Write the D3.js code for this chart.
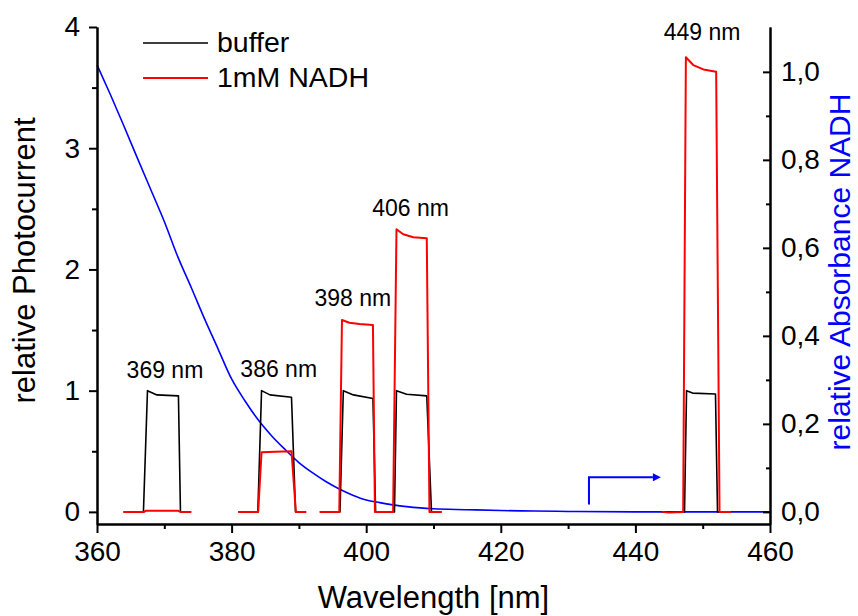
<!DOCTYPE html>
<html>
<head>
<meta charset="utf-8">
<script src="https://cdn.jsdelivr.net/npm/d3@7"></script>
<style>
  html, body { margin: 0; padding: 0; background: #fff; }
  svg { display: block; font-family: Arial, "Liberation Sans", sans-serif; }
</style>
</head>
<body>
<svg id="chart" width="858" height="616"></svg>
<script>
// Photocurrent traces: [wavelength nm, relative photocurrent]; null splits a trace.
const bufferTrace = [
  [364.0, 0], [366.9, 0], [367.5, 1.0], [368.9, 0.965], [372.1, 0.957], [372.4, 0], [374.0, 0], null,
  [381.0, 0], [383.9, 0], [384.45, 1.0], [385.7, 0.965], [388.9, 0.946], [389.5, 0], [391.0, 0], null,
  [393.1, 0], [396.1, 0], [396.6, 1.0], [398.1, 0.965], [401.0, 0.935], [401.4, 0], [404.2, 0],
  [404.5, 1.0], [406.0, 0.97], [409.0, 0.957], [409.7, 0], [411.2, 0], null,
  [443.9, 0], [447.3, 0], [447.6, 1.0], [448.5, 0.98], [451.9, 0.973], [452.2, 0], [454.2, 0]
];

const nadhTrace = [
  [363.9, 0], [367.0, 0], [367.3, 0.01], [372.0, 0.01], [372.4, 0], [374.0, 0], null,
  [381.0, 0], [383.95, 0], [384.45, 0.492], [386.5, 0.497], [388.9, 0.5], [389.55, 0], [391.1, 0], null,
  [393.1, 0], [396.0, 0], [396.4, 1.583], [397.5, 1.56], [399.0, 1.55], [401.0, 1.542], [401.3, 0], [404.0, 0],
  [404.5, 2.331], [405.5, 2.29], [407.0, 2.265], [409.0, 2.257], [409.4, 0], [411.2, 0], null,
  [443.9, 0], [445.0, -0.005], [447.1, 0], [447.5, 3.75], [448.6, 3.686], [450.1, 3.65], [452.0, 3.631],
  [452.5, 0], [454.2, 0]
];

// NADH absorbance spectrum (right axis).
const absWavelength = [360, 362, 364, 366, 368, 370, 372, 374, 376, 378, 380, 382, 384, 386, 388, 390,
  392, 394, 396, 398, 400, 402, 404, 406, 408, 410, 415, 420, 425, 430, 440, 450, 460];
const absValue = [1.016, 0.948, 0.877, 0.804, 0.732, 0.66, 0.58, 0.51, 0.438, 0.37, 0.302, 0.252, 0.208,
  0.172, 0.141, 0.112, 0.089, 0.069, 0.052, 0.038, 0.027, 0.021, 0.016, 0.012, 0.009, 0.007, 0.005,
  0.003, 0.002, 0.001, 0.0, 0.0, 0.0];

// Peak wavelength labels: text, wavelength position, photocurrent height of the baseline.
const peakLabels = ["369 nm", "386 nm", "398 nm", "406 nm", "449 nm"];
const peakLabelX = [370.1, 387.0, 398.0, 406.6, 449.9];
const peakLabelY = [1.105, 1.113, 1.70, 2.44, 3.89];

// Arrow pointing to the absorbance axis, in [wavelength, photocurrent] units.
const arrowPath = [[433.1, 0.06], [433.1, 0.285], [442.6, 0.285]];

const xTicks = [360, 380, 400, 420, 440, 460];
const xMinor = [370, 390, 410, 430, 450];
const yLeftTicks = [0, 1, 2, 3, 4];
const yLeftMinor = [0.5, 1.5, 2.5, 3.5];
const yRightTicks = [0, 0.2, 0.4, 0.6, 0.8, 1.0];
const yRightMinor = [0.1, 0.3, 0.5, 0.7, 0.9];

const legendLabels = ["buffer", "1mM NADH"];
const legendColors = ["#000000", "#ff0000"];

const svg = d3.select("#chart");
const plotLeft = 97, plotRight = 770, plotTop = 27, plotBottom = 524;

const x = d3.scaleLinear().domain([360, 460]).range([plotLeft, plotRight]);
const yLeftDomain = [-0.1, 4];
const yL = d3.scaleLinear().domain(yLeftDomain).range([plotBottom, plotTop]);
// One absorbance unit spans as many pixels as 3.63 photocurrent units.
const absPerCurrent = 1 / 3.63;
const yR = d3.scaleLinear().domain(yLeftDomain.map(v => v * absPerCurrent)).range([plotBottom, plotTop]);

const commaFmt = d => d3.format(".1f")(d).replace(".", ",");

// Data lines
const currentLine = d3.line()
  .defined(d => d !== null)
  .x(d => x(d[0])).y(d => yL(d[1]));

const absData = absWavelength.map((w, i) => [w, absValue[i]]);
svg.append("path")
  .attr("d", d3.line().x(d => x(d[0])).y(d => yR(d[1])).curve(d3.curveMonotoneX)(absData))
  .attr("fill", "none").attr("stroke", "#0000ff").attr("stroke-width", 1.6);

svg.append("path")
  .attr("d", currentLine(bufferTrace))
  .attr("fill", "none").attr("stroke", "#000").attr("stroke-width", 1.6)
  .attr("stroke-linejoin", "round");

svg.append("path")
  .attr("d", currentLine(nadhTrace))
  .attr("fill", "none").attr("stroke", "#ff0000").attr("stroke-width", 2)
  .attr("stroke-linejoin", "round");

// Arrow
svg.append("defs").append("marker")
  .attr("id", "arrowHead").attr("viewBox", "0 0 10 10")
  .attr("refX", 0).attr("refY", 5)
  .attr("markerWidth", 6).attr("markerHeight", 4).attr("markerUnits", "strokeWidth")
  .attr("orient", "auto")
  .append("path").attr("d", "M0,0 L10,5 L0,10 Z").attr("fill", "#0000ff");

svg.append("path")
  .attr("d", d3.line().x(d => x(d[0])).y(d => yL(d[1]))(arrowPath))
  .attr("fill", "none").attr("stroke", "#0000ff").attr("stroke-width", 2)
  .attr("marker-end", "url(#arrowHead)");

// Axes
function styleAxis(g, fontSize) {
  g.selectAll(".domain").attr("stroke", "#000").attr("stroke-width", 2);
  g.selectAll(".tick line").attr("stroke", "#000").attr("stroke-width", 2);
  g.selectAll(".tick text").attr("fill", "#000")
    .style("font-size", fontSize + "px")
    .style("font-family", 'Arial, "Liberation Sans", sans-serif');
}

const gx = svg.append("g").attr("transform", `translate(0,${plotBottom})`)
  .call(d3.axisBottom(x).tickValues(xTicks).tickSize(9).tickSizeOuter(0).tickPadding(8).tickFormat(d3.format("d")));
styleAxis(gx, 28);
const gxm = svg.append("g").attr("transform", `translate(0,${plotBottom})`)
  .call(d3.axisBottom(x).tickValues(xMinor).tickSize(5).tickSizeOuter(0).tickFormat(""));
styleAxis(gxm, 28);

const gl = svg.append("g").attr("transform", `translate(${plotLeft},0)`)
  .call(d3.axisLeft(yL).tickValues(yLeftTicks).tickSize(8).tickSizeOuter(0).tickPadding(9).tickFormat(d3.format("d")));
styleAxis(gl, 28);
const glm = svg.append("g").attr("transform", `translate(${plotLeft},0)`)
  .call(d3.axisLeft(yL).tickValues(yLeftMinor).tickSize(5).tickSizeOuter(0).tickFormat(""));
styleAxis(glm, 28);

const gr = svg.append("g").attr("transform", `translate(${plotRight},0)`)
  .call(d3.axisRight(yR).tickValues(yRightTicks).tickSize(-7).tickSizeOuter(0).tickPadding(11).tickFormat(commaFmt));
styleAxis(gr, 28);
const grm = svg.append("g").attr("transform", `translate(${plotRight},0)`)
  .call(d3.axisRight(yR).tickValues(yRightMinor).tickSize(-4).tickSizeOuter(0).tickFormat(""));
styleAxis(grm, 28);

// Axis titles
svg.append("text")
  .attr("x", (plotLeft + plotRight) / 2).attr("y", 608)
  .attr("text-anchor", "middle").style("font-size", "31px").attr("fill", "#000")
  .text("Wavelength [nm]");

svg.append("text")
  .attr("transform", `translate(35,${(118 + 403) / 2}) rotate(-90)`)
  .attr("text-anchor", "middle").style("font-size", "31px").attr("fill", "#000")
  .text("relative Photocurrent");

svg.append("text")
  .attr("transform", `translate(850,272) rotate(-90)`)
  .attr("text-anchor", "middle").style("font-size", "30px").attr("fill", "#0000ff")
  .text("relative Absorbance NADH");

// Peak labels
svg.append("g").selectAll("text")
  .data(peakLabels)
  .join("text")
  .attr("x", (d, i) => x(peakLabelX[i]))
  .attr("y", (d, i) => yL(peakLabelY[i]))
  .attr("text-anchor", "middle")
  .style("font-size", "23px").attr("fill", "#000")
  .text(d => d);

// Legend
const legend = svg.append("g");
legendLabels.forEach((label, i) => {
  const ly = 43 + i * 35;
  legend.append("line")
    .attr("x1", 143).attr("x2", 208).attr("y1", ly).attr("y2", ly)
    .attr("stroke", legendColors[i]).attr("stroke-width", i === 0 ? 1.6 : 2);
  legend.append("text")
    .attr("x", 217).attr("y", ly + 9)
    .style("font-size", "28.5px").attr("fill", "#000")
    .text(label);
});
</script>
</body>
</html>
